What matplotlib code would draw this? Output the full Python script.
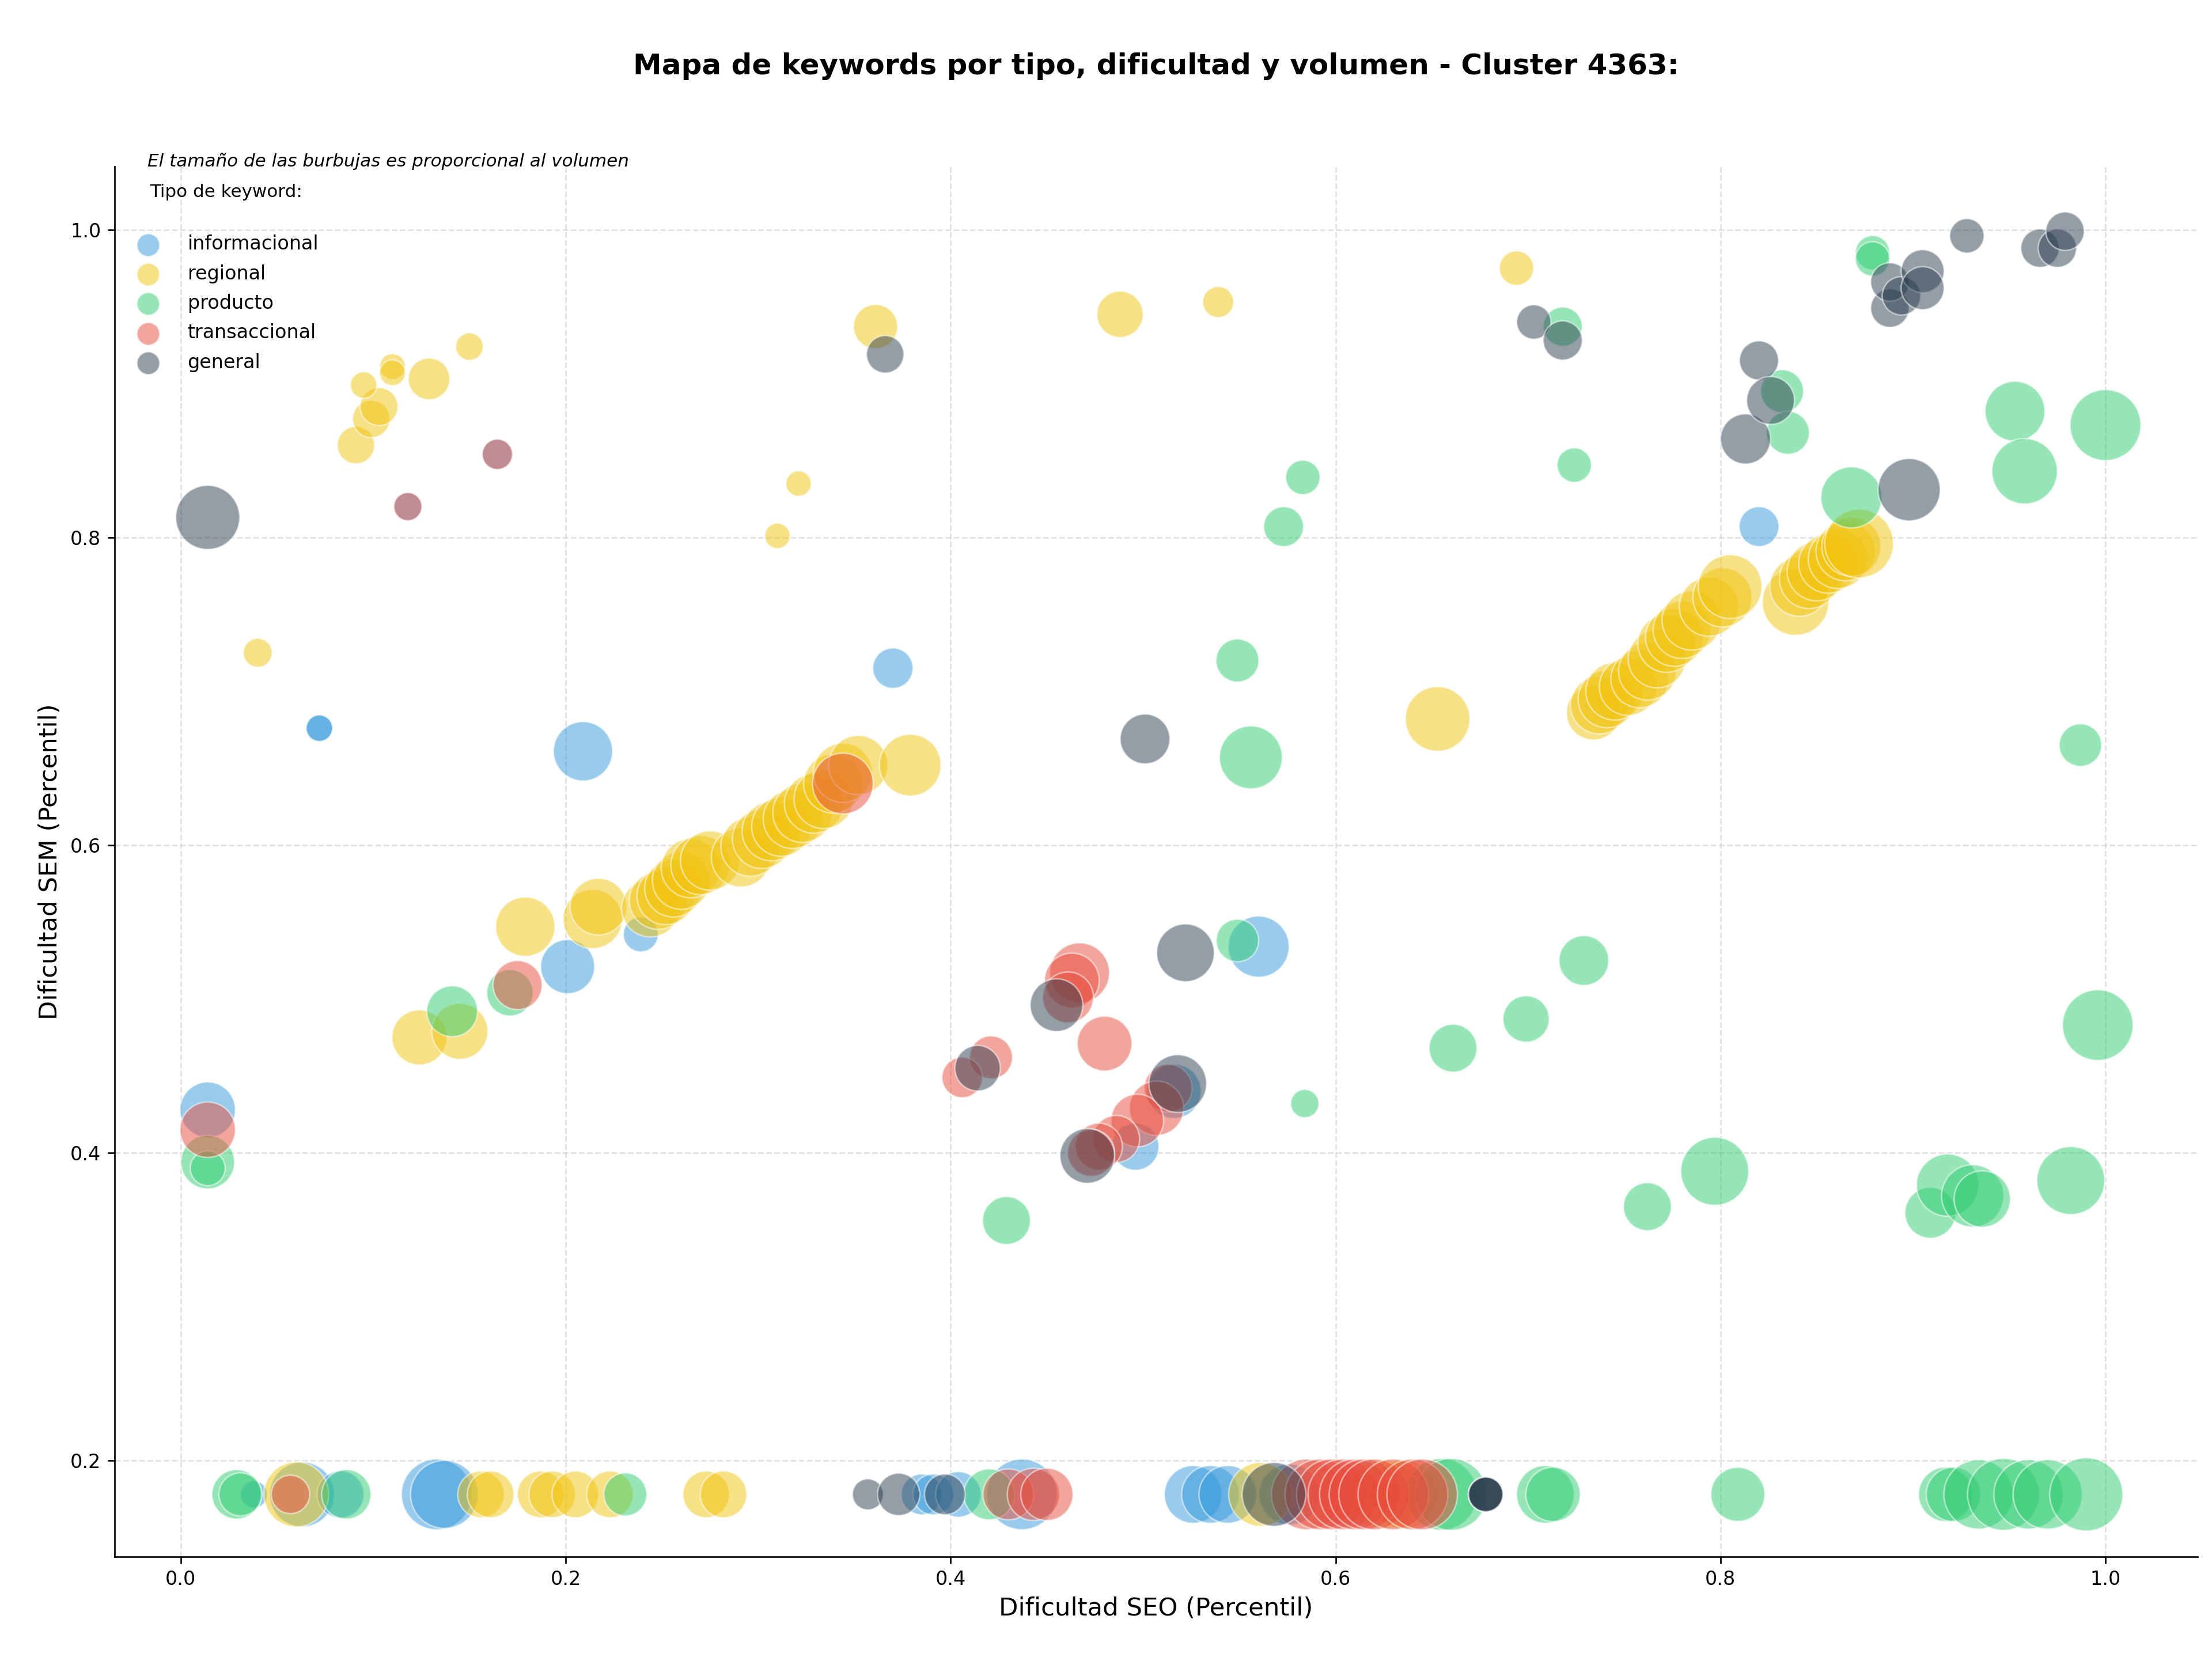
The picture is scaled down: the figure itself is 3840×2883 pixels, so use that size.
import numpy as np
from matplotlib import pyplot as plt

# y = 0.178 -> keywords sin dato SEM (fila inferior)
# informacional
info_seo = [0.014, 0.072, 0.072, 0.118, 0.1645, 0.201, 0.209, 0.239, 0.370, 0.560, 0.516, 0.496, 0.820,
            0.038, 0.063, 0.083, 0.133, 0.137, 0.385, 0.391, 0.404, 0.437, 0.526, 0.535, 0.544, 0.576]
info_sem = [0.428, 0.676, 0.676, 0.820, 0.854, 0.521, 0.661, 0.542, 0.715, 0.534, 0.440, 0.404, 0.807,
            0.178, 0.178, 0.178, 0.178, 0.178, 0.178, 0.178, 0.178, 0.178, 0.178, 0.178, 0.178, 0.178]
info_vol = [830, 190, 190, 215, 250, 790, 950, 330, 440, 1010, 800, 600, 430,
            200, 1140, 600, 1350, 1250, 450, 450, 560, 1350, 900, 900, 900, 1000]

# regional
reg_seo = [0.040, 0.091, 0.099, 0.103, 0.095, 0.110, 0.110, 0.129, 0.150,
           0.310, 0.321, 0.361, 0.488, 0.539, 0.694, 0.653,
           0.124, 0.145, 0.179, 0.214, 0.217, 0.244, 0.248, 0.252, 0.256, 0.260, 0.265, 0.270, 0.275,
           0.291, 0.296, 0.302, 0.307, 0.312, 0.318, 0.323, 0.329, 0.334, 0.339, 0.344, 0.352, 0.379,
           0.734, 0.737, 0.741, 0.745, 0.752, 0.758, 0.762, 0.767, 0.772, 0.776, 0.780, 0.785, 0.794, 0.801, 0.805,
           0.839, 0.841, 0.846, 0.850, 0.856, 0.861, 0.865, 0.868, 0.872,
           0.060, 0.156, 0.161, 0.187, 0.193, 0.205, 0.223, 0.273, 0.282, 0.561, 0.625, 0.635]
reg_sem = [0.725, 0.860, 0.877, 0.885, 0.899, 0.911, 0.907, 0.903, 0.924,
           0.801, 0.835, 0.937, 0.945, 0.953, 0.975, 0.682,
           0.475, 0.479, 0.547, 0.552, 0.560, 0.559, 0.564, 0.567, 0.572, 0.577, 0.585, 0.587, 0.590,
           0.592, 0.599, 0.604, 0.609, 0.612, 0.617, 0.621, 0.627, 0.630, 0.640, 0.647, 0.652, 0.652,
           0.686, 0.691, 0.695, 0.700, 0.703, 0.708, 0.713, 0.721, 0.731, 0.735, 0.740, 0.746, 0.755, 0.761, 0.768,
           0.758, 0.768, 0.773, 0.778, 0.783, 0.786, 0.791, 0.794, 0.796,
           0.178, 0.178, 0.178, 0.178, 0.178, 0.178, 0.178, 0.178, 0.178, 0.178, 0.178, 0.178]
reg_vol = [225, 380, 380, 390, 190, 180, 180, 470, 205,
           175, 175, 530, 580, 260, 320, 1130,
           820, 850, 950, 950, 870, 900, 900, 900, 900, 900, 950, 950, 950,
           950, 950, 950, 950, 950, 950, 950, 950, 950, 950, 950, 950, 1030,
           800, 900, 900, 900, 900, 900, 900, 900, 900, 900, 900, 950, 950, 950, 1100,
           1200, 950, 950, 950, 950, 950, 950, 950, 1280,
           1140, 590, 590, 590, 590, 590, 590, 590, 590, 1100, 1300, 1300]

# producto
prod_seo = [0.014, 0.014, 0.141, 0.171, 0.429, 0.549, 0.556, 0.549, 0.573, 0.583, 0.584, 0.661, 0.699,
            0.729, 0.724, 0.718, 0.762, 0.797, 0.832, 0.835, 0.868, 0.879, 0.879, 0.953, 0.958, 1.000,
            0.987, 0.996, 0.982, 0.909, 0.918, 0.931, 0.936,
            0.029, 0.031, 0.086, 0.231, 0.420, 0.655, 0.660, 0.709, 0.713, 0.809, 0.917, 0.921, 0.934,
            0.947, 0.960, 0.970, 0.990]
prod_sem = [0.394, 0.390, 0.492, 0.504, 0.356, 0.720, 0.657, 0.538, 0.807, 0.839, 0.432, 0.468, 0.487,
            0.525, 0.847, 0.937, 0.365, 0.388, 0.895, 0.868, 0.826, 0.985, 0.981, 0.882, 0.843, 0.873,
            0.665, 0.483, 0.382, 0.361, 0.379, 0.372, 0.370,
            0.178, 0.178, 0.178, 0.178, 0.178, 0.178, 0.178, 0.178, 0.178, 0.178, 0.178, 0.178, 0.178,
            0.178, 0.178, 0.178, 0.178]
prod_vol = [780, 330, 700, 580, 620, 500, 1070, 490, 430, 320, 216, 620, 580,
            670, 320, 415, 620, 1250, 500, 500, 1010, 320, 320, 970, 1160, 1360,
            490, 1350, 1250, 700, 1050, 1050, 860,
            660, 500, 660, 500, 700, 1400, 1400, 900, 800, 790, 800, 800, 1300,
            1400, 1300, 1300, 1450]

# transaccional
trans_seo = [0.014, 0.118, 0.1645, 0.175, 0.344,
             0.467, 0.463, 0.461, 0.480, 0.421, 0.406, 0.513, 0.507, 0.497, 0.486, 0.477, 0.473,
             0.057, 0.430, 0.443, 0.450, 0.585, 0.592, 0.598, 0.604, 0.610, 0.615, 0.620, 0.630, 0.640, 0.645]
trans_sem = [0.415, 0.820, 0.854, 0.509, 0.640,
             0.517, 0.512, 0.501, 0.471, 0.462, 0.449, 0.442, 0.429, 0.421, 0.409, 0.404, 0.400,
             0.178, 0.178, 0.178, 0.178, 0.178, 0.178, 0.178, 0.178, 0.178, 0.178, 0.178, 0.178, 0.178, 0.178]
trans_vol = [830, 215, 250, 650, 1000,
             970, 810, 700, 810, 500, 445, 620, 800, 750, 600, 600, 600,
             400, 700, 740, 740, 1350, 1350, 1350, 1350, 1350, 1350, 1350, 1350, 1350, 1350]

# general
gen_seo = [0.014, 0.366, 0.501, 0.522, 0.455, 0.414, 0.471, 0.518, 0.703, 0.718, 0.813, 0.820, 0.826,
           0.898, 0.888, 0.888, 0.894, 0.905, 0.905, 0.928, 0.966, 0.975, 0.979,
           0.357, 0.373, 0.397, 0.568, 0.678, 0.678, 0.678, 0.678]
gen_sem = [0.813, 0.919, 0.669, 0.530, 0.496, 0.455, 0.398, 0.445, 0.940, 0.928, 0.864, 0.915, 0.889,
           0.831, 0.949, 0.966, 0.957, 0.973, 0.962, 0.996, 0.988, 0.988, 0.999,
           0.178, 0.178, 0.178, 0.178, 0.178, 0.178, 0.178, 0.178]
gen_vol = [1110, 380, 670, 900, 750, 560, 810, 900, 320, 415, 680, 415, 620,
           1050, 400, 400, 400, 500, 500, 320, 400, 400, 400,
           260, 486, 450, 1100, 325, 325, 325, 325]

tipos = ['informacional', 'regional', 'producto', 'transaccional', 'general']
colores = ['#3498db', '#f1c40f', '#2ecc71', '#e74c3c', '#2c3e50']
datos = [(info_seo, info_sem, info_vol), (reg_seo, reg_sem, reg_vol), (prod_seo, prod_sem, prod_vol),
         (trans_seo, trans_sem, trans_vol), (gen_seo, gen_sem, gen_vol)]

fig = plt.figure(figsize=(16, 12.0125), dpi=240)
ax = fig.add_axes([0.0517, 0.0629, 0.9419, 0.8368])

for (x, y, v), c in zip(datos, colores):
    ax.scatter(x, y, s=np.array(v), color=c, alpha=0.5, edgecolors='white', linewidths=0.8, zorder=3)

# leyenda con marcadores de tamaño fijo
handles = [ax.scatter([], [], s=140, color=c, alpha=0.5, edgecolors='white', linewidths=0.8) for c in colores]
ax.legend(handles, tipos, loc='upper left', bbox_to_anchor=(0.007, 0.951), frameon=False,
          fontsize=10, borderpad=0, borderaxespad=0, handletextpad=1.05, labelspacing=0.55)

ax.text(0.017, 0.9817, 'Tipo de keyword:', transform=ax.transAxes, fontsize=9.3, va='center')
ax.text(0.016, 1.004, 'El tamaño de las burbujas es proporcional al volumen', transform=ax.transAxes,
        fontsize=9.3, style='italic', va='center')

ax.set_xlim(-0.0345, 1.048)
ax.set_ylim(0.1376, 1.041)
ax.set_xticks([0.0, 0.2, 0.4, 0.6, 0.8, 1.0])
ax.set_yticks([0.2, 0.4, 0.6, 0.8, 1.0])
ax.tick_params(labelsize=10)
ax.grid(True, linestyle='--', color='#cccccc', alpha=0.6, linewidth=0.8)
ax.set_axisbelow(True)
ax.spines['top'].set_visible(False)
ax.spines['right'].set_visible(False)

ax.set_xlabel('Dificultad SEO (Percentil)', fontsize=13)
ax.set_ylabel('Dificultad SEM (Percentil)', fontsize=13)
ax.set_title('Mapa de keywords por tipo, dificultad y volumen - Cluster 4363:', fontsize=15,
             fontweight='bold', pad=48)

fig.savefig('out.png', dpi=240)
